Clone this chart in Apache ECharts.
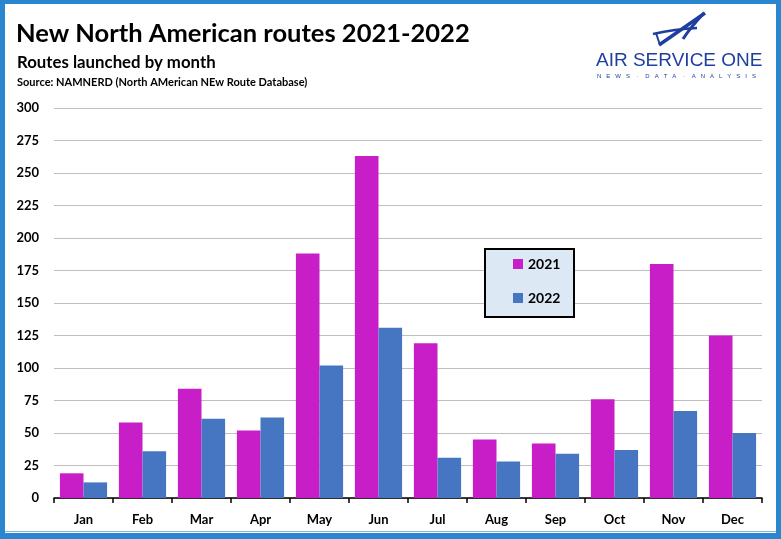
<!DOCTYPE html>
<html>
<head>
<meta charset="utf-8">
<style>html,body{margin:0;padding:0;background:#fff;}#chart{width:781px;height:539px;}</style>
<script src="https://cdn.jsdelivr.net/npm/echarts@6/dist/echarts.min.js"></script>
</head>
<body>
<div id="chart"></div>
<script>
const months = ['Jan','Feb','Mar','Apr','May','Jun','Jul','Aug','Sep','Oct','Nov','Dec'];
const routes2021 = [19, 58, 84, 52, 188, 263, 119, 45, 42, 76, 180, 125];
const routes2022 = [12, 36, 61, 62, 102, 131, 31, 28, 34, 37, 67, 50];
const yTicks = [0, 25, 50, 75, 100, 125, 150, 175, 200, 225, 250, 275, 300];

const FONT = 'Lato';
const chart = echarts.init(document.getElementById('chart'));
const borderBlue = '#2A86CF';
const logoBlue = '#1F3FA0';

chart.setOption({
  backgroundColor: '#fff',
  animation: false,
  title: [
    {text: 'New North American routes 2021-2022', left: 11, top: 16,
     textStyle: {fontFamily: FONT, fontWeight: 'bold', fontSize: 25.5, color: '#000'}},
    {text: 'Routes launched by month', left: 12, top: 49,
     textStyle: {fontFamily: FONT, fontWeight: 'bold', fontSize: 16.8, color: '#000'}},
    {text: 'Source: NAMNERD (North AMerican NEw Route Database)', left: 12, top: 72,
     textStyle: {fontFamily: FONT, fontWeight: 'bold', fontSize: 11, color: '#000'}}
  ],
  legend: {
    orient: 'vertical', left: 508, top: 252,
    itemWidth: 10, itemHeight: 10, itemGap: 20, icon: 'rect',
    textStyle: {fontFamily: FONT, fontWeight: 'bold', fontSize: 14, color: '#000'},
    data: ['2021', '2022'], z: 5
  },
  grid: {left: 54, right: 19, top: 108, bottom: 41},
  xAxis: {
    type: 'category', data: months,
    axisLine: {lineStyle: {color: '#000', width: 1.5}},
    axisTick: {show: true, length: 5, lineStyle: {color: '#000', width: 1.5}},
    axisLabel: {fontFamily: FONT, fontWeight: 'bold', fontSize: 13, color: '#000', margin: 15}
  },
  yAxis: {
    type: 'value', min: yTicks[0], max: yTicks[yTicks.length - 1], interval: 25,
    axisLine: {show: false}, axisTick: {show: false},
    splitLine: {lineStyle: {color: '#BFBFBF', width: 1}},
    axisLabel: {fontFamily: FONT, fontWeight: 'bold', fontSize: 13, color: '#000', margin: 15}
  },
  series: [
    {name: '2021', type: 'bar', data: routes2021, barGap: '0%', barCategoryGap: '20%',
     itemStyle: {color: '#C81EC8'}},
    {name: '2022', type: 'bar', data: routes2022, barGap: '0%', barCategoryGap: '20%',
     itemStyle: {color: '#4675C2'}}
  ],
  graphic: [
    {type: 'rect', shape: {x: 485, y: 249, width: 89, height: 68}, z: 3,
     style: {fill: '#DDE8F5', stroke: '#000', lineWidth: 2}},
    {type: 'rect', shape: {x: 0, y: 0, width: 781, height: 4}, style: {fill: borderBlue}, z: 10},
    {type: 'rect', shape: {x: 0, y: 0, width: 5, height: 539}, style: {fill: borderBlue}, z: 10},
    {type: 'rect', shape: {x: 776, y: 0, width: 5, height: 539}, style: {fill: borderBlue}, z: 10},
    {type: 'rect', shape: {x: 0, y: 533, width: 781, height: 6}, style: {fill: borderBlue}, z: 10},
    {type: 'rect', shape: {x: 5, y: 531, width: 771, height: 1}, style: {fill: '#8FB4D9'}, z: 10},
    {type: 'polyline', shape: {points: [[705,13],[659,45]]}, style: {fill: null, stroke: logoBlue, lineWidth: 3.5}},
    {type: 'bezierCurve', shape: {x1: 704, y1: 13, cpx1: 690, cpy1: 28, x2: 683, y2: 39}, style: {fill: null, stroke: logoBlue, lineWidth: 3}},
    {type: 'bezierCurve', shape: {x1: 653, y1: 34, cpx1: 675, cpy1: 29, x2: 697, y2: 28}, style: {fill: null, stroke: logoBlue, lineWidth: 2.5}},
    {type: 'polyline', shape: {points: [[656,33],[660,45]]}, style: {fill: null, stroke: logoBlue, lineWidth: 2}},
    {type: 'text', left: 596, top: 51,
     style: {text: 'AIR SERVICE ONE', fontFamily: 'Liberation Sans', fontSize: 19, fill: logoBlue}},
    {type: 'text', left: 597, top: 73,
     style: {text: 'N   E   W   S    ·    D   A   T   A    ·    A   N   A   L   Y   S   I   S', fontFamily: 'Liberation Sans', fontSize: 6, fill: logoBlue}}
  ]
});
</script>
</body>
</html>
